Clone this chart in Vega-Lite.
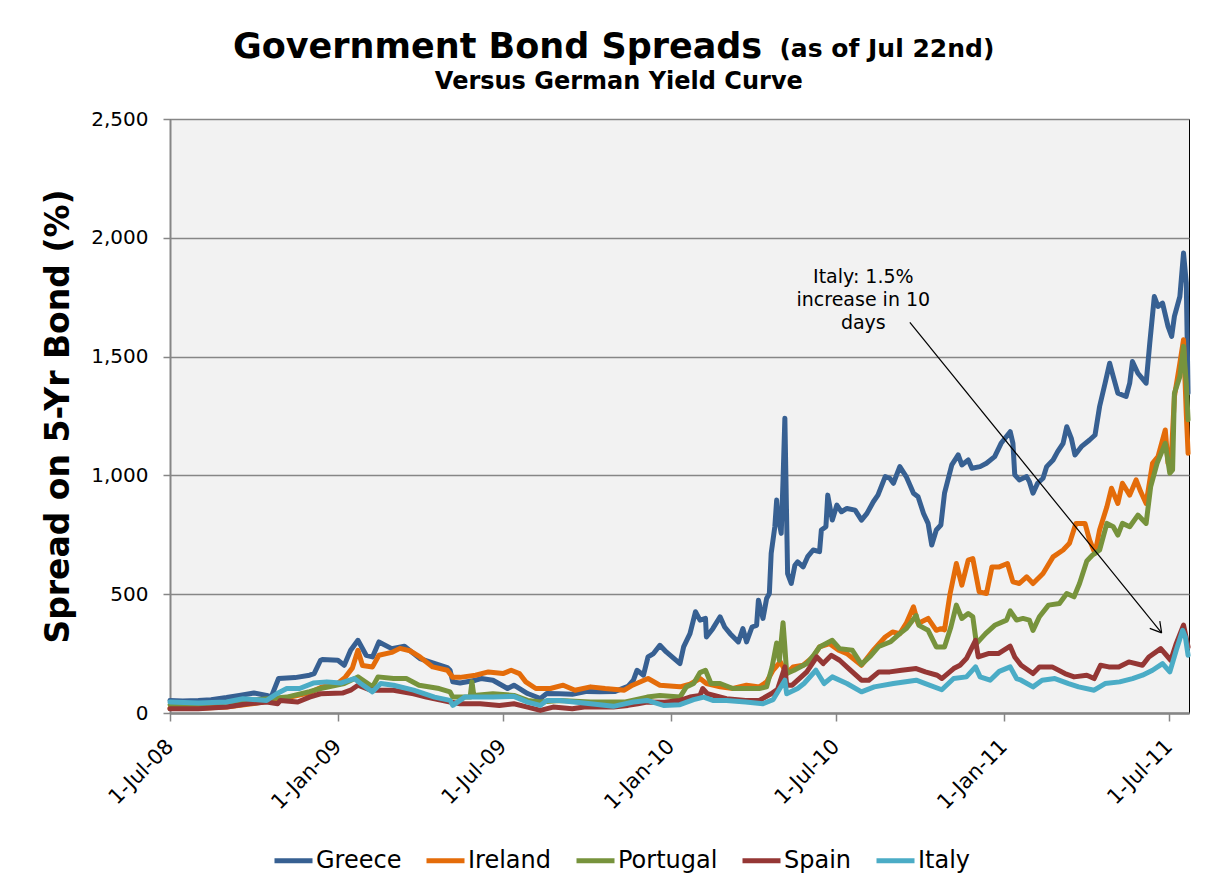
{
  "$schema": "https://vega.github.io/schema/vega-lite/v6.json",
  "autosize": "none",
  "width": 1019,
  "height": 594,
  "padding": {"left": 170, "top": 119, "right": 20, "bottom": 172},
  "background": "white",
  "config": {
    "font": "DejaVu Sans",
    "view": {"fill": "#F2F2F2", "stroke": "#000000", "strokeWidth": 1}
  },
  "title": {
    "text": "Government Bond Spreads",
    "anchor": "start",
    "frame": "group",
    "dx": 63,
    "dy": 68,
    "offset": 40,
    "fontSize": 35,
    "fontWeight": "bold",
    "font": "DejaVu Sans",
    "color": "#000000"
  },
  "datasets": {
    "spreads": [
      {"date":"2008-07-01","country":"Greece","spread":53},
      {"date":"2008-07-15","country":"Greece","spread":51},
      {"date":"2008-08-01","country":"Greece","spread":53},
      {"date":"2008-08-15","country":"Greece","spread":56},
      {"date":"2008-09-01","country":"Greece","spread":65},
      {"date":"2008-09-15","country":"Greece","spread":74},
      {"date":"2008-10-01","country":"Greece","spread":84},
      {"date":"2008-10-15","country":"Greece","spread":74},
      {"date":"2008-10-20","country":"Greece","spread":68},
      {"date":"2008-10-28","country":"Greece","spread":145},
      {"date":"2008-11-15","country":"Greece","spread":149},
      {"date":"2008-12-01","country":"Greece","spread":159},
      {"date":"2008-12-06","country":"Greece","spread":166},
      {"date":"2008-12-13","country":"Greece","spread":222},
      {"date":"2008-12-15","country":"Greece","spread":225},
      {"date":"2009-01-01","country":"Greece","spread":222},
      {"date":"2009-01-08","country":"Greece","spread":201},
      {"date":"2009-01-15","country":"Greece","spread":264},
      {"date":"2009-01-23","country":"Greece","spread":306},
      {"date":"2009-02-01","country":"Greece","spread":243},
      {"date":"2009-02-08","country":"Greece","spread":236},
      {"date":"2009-02-15","country":"Greece","spread":299},
      {"date":"2009-03-01","country":"Greece","spread":271},
      {"date":"2009-03-15","country":"Greece","spread":281},
      {"date":"2009-04-01","country":"Greece","spread":229},
      {"date":"2009-04-15","country":"Greece","spread":211},
      {"date":"2009-05-01","country":"Greece","spread":191},
      {"date":"2009-05-04","country":"Greece","spread":180},
      {"date":"2009-05-07","country":"Greece","spread":131},
      {"date":"2009-05-15","country":"Greece","spread":126},
      {"date":"2009-06-01","country":"Greece","spread":138},
      {"date":"2009-06-07","country":"Greece","spread":145},
      {"date":"2009-06-20","country":"Greece","spread":138},
      {"date":"2009-07-06","country":"Greece","spread":103},
      {"date":"2009-07-13","country":"Greece","spread":117},
      {"date":"2009-07-28","country":"Greece","spread":82},
      {"date":"2009-08-11","country":"Greece","spread":61},
      {"date":"2009-08-18","country":"Greece","spread":82},
      {"date":"2009-09-01","country":"Greece","spread":81},
      {"date":"2009-09-15","country":"Greece","spread":79},
      {"date":"2009-10-01","country":"Greece","spread":91},
      {"date":"2009-10-15","country":"Greece","spread":89},
      {"date":"2009-11-01","country":"Greece","spread":91},
      {"date":"2009-11-15","country":"Greece","spread":112},
      {"date":"2009-11-21","country":"Greece","spread":138},
      {"date":"2009-11-25","country":"Greece","spread":180},
      {"date":"2009-12-02","country":"Greece","spread":159},
      {"date":"2009-12-07","country":"Greece","spread":236},
      {"date":"2009-12-13","country":"Greece","spread":250},
      {"date":"2009-12-20","country":"Greece","spread":285},
      {"date":"2009-12-27","country":"Greece","spread":257},
      {"date":"2010-01-11","country":"Greece","spread":208},
      {"date":"2010-01-15","country":"Greece","spread":278},
      {"date":"2010-01-22","country":"Greece","spread":334},
      {"date":"2010-01-28","country":"Greece","spread":426},
      {"date":"2010-02-02","country":"Greece","spread":391},
      {"date":"2010-02-08","country":"Greece","spread":398},
      {"date":"2010-02-09","country":"Greece","spread":320},
      {"date":"2010-02-16","country":"Greece","spread":355},
      {"date":"2010-02-24","country":"Greece","spread":405},
      {"date":"2010-03-01","country":"Greece","spread":362},
      {"date":"2010-03-07","country":"Greece","spread":334},
      {"date":"2010-03-16","country":"Greece","spread":299},
      {"date":"2010-03-21","country":"Greece","spread":355},
      {"date":"2010-03-25","country":"Greece","spread":299},
      {"date":"2010-03-31","country":"Greece","spread":362},
      {"date":"2010-04-05","country":"Greece","spread":369},
      {"date":"2010-04-07","country":"Greece","spread":475},
      {"date":"2010-04-12","country":"Greece","spread":398},
      {"date":"2010-04-16","country":"Greece","spread":482},
      {"date":"2010-04-19","country":"Greece","spread":503},
      {"date":"2010-04-21","country":"Greece","spread":672},
      {"date":"2010-04-25","country":"Greece","spread":784},
      {"date":"2010-04-27","country":"Greece","spread":896},
      {"date":"2010-04-28","country":"Greece","spread":840},
      {"date":"2010-05-02","country":"Greece","spread":756},
      {"date":"2010-05-04","country":"Greece","spread":981},
      {"date":"2010-05-06","country":"Greece","spread":1241},
      {"date":"2010-05-09","country":"Greece","spread":587},
      {"date":"2010-05-13","country":"Greece","spread":545},
      {"date":"2010-05-17","country":"Greece","spread":622},
      {"date":"2010-05-20","country":"Greece","spread":636},
      {"date":"2010-05-26","country":"Greece","spread":615},
      {"date":"2010-05-31","country":"Greece","spread":658},
      {"date":"2010-06-06","country":"Greece","spread":686},
      {"date":"2010-06-13","country":"Greece","spread":679},
      {"date":"2010-06-15","country":"Greece","spread":770},
      {"date":"2010-06-20","country":"Greece","spread":784},
      {"date":"2010-06-22","country":"Greece","spread":917},
      {"date":"2010-06-27","country":"Greece","spread":812},
      {"date":"2010-07-02","country":"Greece","spread":875},
      {"date":"2010-07-07","country":"Greece","spread":847},
      {"date":"2010-07-13","country":"Greece","spread":861},
      {"date":"2010-07-22","country":"Greece","spread":854},
      {"date":"2010-07-29","country":"Greece","spread":812},
      {"date":"2010-08-04","country":"Greece","spread":840},
      {"date":"2010-08-11","country":"Greece","spread":889},
      {"date":"2010-08-16","country":"Greece","spread":917},
      {"date":"2010-08-24","country":"Greece","spread":995},
      {"date":"2010-08-29","country":"Greece","spread":988},
      {"date":"2010-09-02","country":"Greece","spread":967},
      {"date":"2010-09-09","country":"Greece","spread":1037},
      {"date":"2010-09-16","country":"Greece","spread":995},
      {"date":"2010-09-24","country":"Greece","spread":925},
      {"date":"2010-09-29","country":"Greece","spread":910},
      {"date":"2010-10-05","country":"Greece","spread":840},
      {"date":"2010-10-10","country":"Greece","spread":798},
      {"date":"2010-10-14","country":"Greece","spread":707},
      {"date":"2010-10-19","country":"Greece","spread":770},
      {"date":"2010-10-24","country":"Greece","spread":791},
      {"date":"2010-10-28","country":"Greece","spread":925},
      {"date":"2010-11-05","country":"Greece","spread":1044},
      {"date":"2010-11-12","country":"Greece","spread":1086},
      {"date":"2010-11-16","country":"Greece","spread":1044},
      {"date":"2010-11-23","country":"Greece","spread":1065},
      {"date":"2010-11-27","country":"Greece","spread":1030},
      {"date":"2010-12-06","country":"Greece","spread":1037},
      {"date":"2010-12-13","country":"Greece","spread":1051},
      {"date":"2010-12-22","country":"Greece","spread":1079},
      {"date":"2010-12-29","country":"Greece","spread":1135},
      {"date":"2011-01-08","country":"Greece","spread":1184},
      {"date":"2011-01-11","country":"Greece","spread":1135},
      {"date":"2011-01-13","country":"Greece","spread":1002},
      {"date":"2011-01-18","country":"Greece","spread":981},
      {"date":"2011-01-26","country":"Greece","spread":995},
      {"date":"2011-01-29","country":"Greece","spread":974},
      {"date":"2011-02-02","country":"Greece","spread":925},
      {"date":"2011-02-07","country":"Greece","spread":967},
      {"date":"2011-02-13","country":"Greece","spread":988},
      {"date":"2011-02-17","country":"Greece","spread":1037},
      {"date":"2011-02-24","country":"Greece","spread":1065},
      {"date":"2011-03-01","country":"Greece","spread":1100},
      {"date":"2011-03-07","country":"Greece","spread":1135},
      {"date":"2011-03-11","country":"Greece","spread":1205},
      {"date":"2011-03-16","country":"Greece","spread":1156},
      {"date":"2011-03-20","country":"Greece","spread":1086},
      {"date":"2011-03-27","country":"Greece","spread":1121},
      {"date":"2011-04-05","country":"Greece","spread":1149},
      {"date":"2011-04-11","country":"Greece","spread":1170},
      {"date":"2011-04-16","country":"Greece","spread":1290},
      {"date":"2011-04-22","country":"Greece","spread":1388},
      {"date":"2011-04-27","country":"Greece","spread":1472},
      {"date":"2011-05-01","country":"Greece","spread":1416},
      {"date":"2011-05-06","country":"Greece","spread":1346},
      {"date":"2011-05-15","country":"Greece","spread":1332},
      {"date":"2011-05-19","country":"Greece","spread":1388},
      {"date":"2011-05-22","country":"Greece","spread":1479},
      {"date":"2011-05-28","country":"Greece","spread":1430},
      {"date":"2011-06-06","country":"Greece","spread":1388},
      {"date":"2011-06-10","country":"Greece","spread":1557},
      {"date":"2011-06-15","country":"Greece","spread":1753},
      {"date":"2011-06-19","country":"Greece","spread":1711},
      {"date":"2011-06-24","country":"Greece","spread":1725},
      {"date":"2011-06-30","country":"Greece","spread":1627},
      {"date":"2011-07-04","country":"Greece","spread":1585},
      {"date":"2011-07-07","country":"Greece","spread":1669},
      {"date":"2011-07-13","country":"Greece","spread":1753},
      {"date":"2011-07-17","country":"Greece","spread":1936},
      {"date":"2011-07-20","country":"Greece","spread":1810},
      {"date":"2011-07-22","country":"Greece","spread":1346},

      {"date":"2008-07-01","country":"Ireland","spread":20},
      {"date":"2008-08-01","country":"Ireland","spread":20},
      {"date":"2008-09-01","country":"Ireland","spread":25},
      {"date":"2008-10-01","country":"Ireland","spread":40},
      {"date":"2008-11-01","country":"Ireland","spread":60},
      {"date":"2008-12-01","country":"Ireland","spread":85},
      {"date":"2008-12-15","country":"Ireland","spread":110},
      {"date":"2009-01-01","country":"Ireland","spread":125},
      {"date":"2009-01-09","country":"Ireland","spread":150},
      {"date":"2009-01-17","country":"Ireland","spread":190},
      {"date":"2009-01-23","country":"Ireland","spread":264},
      {"date":"2009-01-28","country":"Ireland","spread":200},
      {"date":"2009-02-08","country":"Ireland","spread":194},
      {"date":"2009-02-15","country":"Ireland","spread":243},
      {"date":"2009-03-01","country":"Ireland","spread":255},
      {"date":"2009-03-10","country":"Ireland","spread":272},
      {"date":"2009-03-21","country":"Ireland","spread":262},
      {"date":"2009-04-01","country":"Ireland","spread":236},
      {"date":"2009-04-15","country":"Ireland","spread":194},
      {"date":"2009-05-01","country":"Ireland","spread":180},
      {"date":"2009-05-07","country":"Ireland","spread":150},
      {"date":"2009-05-15","country":"Ireland","spread":150},
      {"date":"2009-06-01","country":"Ireland","spread":159},
      {"date":"2009-06-15","country":"Ireland","spread":173},
      {"date":"2009-07-01","country":"Ireland","spread":166},
      {"date":"2009-07-10","country":"Ireland","spread":180},
      {"date":"2009-07-19","country":"Ireland","spread":166},
      {"date":"2009-07-26","country":"Ireland","spread":131},
      {"date":"2009-08-06","country":"Ireland","spread":103},
      {"date":"2009-08-22","country":"Ireland","spread":103},
      {"date":"2009-09-05","country":"Ireland","spread":117},
      {"date":"2009-09-18","country":"Ireland","spread":96},
      {"date":"2009-10-05","country":"Ireland","spread":110},
      {"date":"2009-10-21","country":"Ireland","spread":103},
      {"date":"2009-11-11","country":"Ireland","spread":96},
      {"date":"2009-11-20","country":"Ireland","spread":117},
      {"date":"2009-12-07","country":"Ireland","spread":145},
      {"date":"2009-12-20","country":"Ireland","spread":117},
      {"date":"2010-01-11","country":"Ireland","spread":110},
      {"date":"2010-01-22","country":"Ireland","spread":121},
      {"date":"2010-02-02","country":"Ireland","spread":145},
      {"date":"2010-02-09","country":"Ireland","spread":124},
      {"date":"2010-02-24","country":"Ireland","spread":110},
      {"date":"2010-03-10","country":"Ireland","spread":103},
      {"date":"2010-03-25","country":"Ireland","spread":117},
      {"date":"2010-04-08","country":"Ireland","spread":110},
      {"date":"2010-04-16","country":"Ireland","spread":131},
      {"date":"2010-04-23","country":"Ireland","spread":180},
      {"date":"2010-05-01","country":"Ireland","spread":215},
      {"date":"2010-05-08","country":"Ireland","spread":166},
      {"date":"2010-05-15","country":"Ireland","spread":194},
      {"date":"2010-05-26","country":"Ireland","spread":201},
      {"date":"2010-06-06","country":"Ireland","spread":236},
      {"date":"2010-06-13","country":"Ireland","spread":278},
      {"date":"2010-06-24","country":"Ireland","spread":292},
      {"date":"2010-07-04","country":"Ireland","spread":264},
      {"date":"2010-07-13","country":"Ireland","spread":250},
      {"date":"2010-07-29","country":"Ireland","spread":201},
      {"date":"2010-08-10","country":"Ireland","spread":260},
      {"date":"2010-08-24","country":"Ireland","spread":320},
      {"date":"2010-09-01","country":"Ireland","spread":341},
      {"date":"2010-09-09","country":"Ireland","spread":334},
      {"date":"2010-09-16","country":"Ireland","spread":377},
      {"date":"2010-09-24","country":"Ireland","spread":447},
      {"date":"2010-09-29","country":"Ireland","spread":377},
      {"date":"2010-10-10","country":"Ireland","spread":398},
      {"date":"2010-10-19","country":"Ireland","spread":348},
      {"date":"2010-10-24","country":"Ireland","spread":355},
      {"date":"2010-10-28","country":"Ireland","spread":350},
      {"date":"2010-11-03","country":"Ireland","spread":500},
      {"date":"2010-11-10","country":"Ireland","spread":629},
      {"date":"2010-11-16","country":"Ireland","spread":538},
      {"date":"2010-11-23","country":"Ireland","spread":643},
      {"date":"2010-11-28","country":"Ireland","spread":650},
      {"date":"2010-12-05","country":"Ireland","spread":510},
      {"date":"2010-12-13","country":"Ireland","spread":503},
      {"date":"2010-12-19","country":"Ireland","spread":615},
      {"date":"2010-12-27","country":"Ireland","spread":615},
      {"date":"2011-01-05","country":"Ireland","spread":629},
      {"date":"2011-01-11","country":"Ireland","spread":552},
      {"date":"2011-01-18","country":"Ireland","spread":545},
      {"date":"2011-01-26","country":"Ireland","spread":573},
      {"date":"2011-02-02","country":"Ireland","spread":545},
      {"date":"2011-02-13","country":"Ireland","spread":587},
      {"date":"2011-02-24","country":"Ireland","spread":657},
      {"date":"2011-03-07","country":"Ireland","spread":686},
      {"date":"2011-03-14","country":"Ireland","spread":714},
      {"date":"2011-03-21","country":"Ireland","spread":798},
      {"date":"2011-03-31","country":"Ireland","spread":798},
      {"date":"2011-04-05","country":"Ireland","spread":728},
      {"date":"2011-04-11","country":"Ireland","spread":672},
      {"date":"2011-04-16","country":"Ireland","spread":770},
      {"date":"2011-04-24","country":"Ireland","spread":868},
      {"date":"2011-04-29","country":"Ireland","spread":946},
      {"date":"2011-05-06","country":"Ireland","spread":882},
      {"date":"2011-05-11","country":"Ireland","spread":967},
      {"date":"2011-05-19","country":"Ireland","spread":917},
      {"date":"2011-05-26","country":"Ireland","spread":981},
      {"date":"2011-05-31","country":"Ireland","spread":932},
      {"date":"2011-06-06","country":"Ireland","spread":882},
      {"date":"2011-06-13","country":"Ireland","spread":1051},
      {"date":"2011-06-19","country":"Ireland","spread":1079},
      {"date":"2011-06-27","country":"Ireland","spread":1191},
      {"date":"2011-06-30","country":"Ireland","spread":1051},
      {"date":"2011-07-04","country":"Ireland","spread":1107},
      {"date":"2011-07-07","country":"Ireland","spread":1332},
      {"date":"2011-07-13","country":"Ireland","spread":1472},
      {"date":"2011-07-17","country":"Ireland","spread":1571},
      {"date":"2011-07-20","country":"Ireland","spread":1262},
      {"date":"2011-07-22","country":"Ireland","spread":1093},

      {"date":"2008-07-01","country":"Portugal","spread":35},
      {"date":"2008-08-01","country":"Portugal","spread":38},
      {"date":"2008-09-01","country":"Portugal","spread":45},
      {"date":"2008-10-01","country":"Portugal","spread":55},
      {"date":"2008-11-06","country":"Portugal","spread":67},
      {"date":"2008-12-01","country":"Portugal","spread":90},
      {"date":"2008-12-13","country":"Portugal","spread":103},
      {"date":"2009-01-08","country":"Portugal","spread":124},
      {"date":"2009-01-23","country":"Portugal","spread":152},
      {"date":"2009-02-08","country":"Portugal","spread":110},
      {"date":"2009-02-14","country":"Portugal","spread":152},
      {"date":"2009-03-03","country":"Portugal","spread":145},
      {"date":"2009-03-17","country":"Portugal","spread":145},
      {"date":"2009-03-31","country":"Portugal","spread":117},
      {"date":"2009-04-22","country":"Portugal","spread":103},
      {"date":"2009-05-04","country":"Portugal","spread":89},
      {"date":"2009-05-07","country":"Portugal","spread":67},
      {"date":"2009-05-26","country":"Portugal","spread":67},
      {"date":"2009-05-28","country":"Portugal","spread":131},
      {"date":"2009-05-30","country":"Portugal","spread":74},
      {"date":"2009-06-20","country":"Portugal","spread":81},
      {"date":"2009-07-13","country":"Portugal","spread":74},
      {"date":"2009-07-28","country":"Portugal","spread":53},
      {"date":"2009-08-11","country":"Portugal","spread":46},
      {"date":"2009-09-01","country":"Portugal","spread":53},
      {"date":"2009-10-05","country":"Portugal","spread":46},
      {"date":"2009-11-11","country":"Portugal","spread":46},
      {"date":"2009-12-06","country":"Portugal","spread":67},
      {"date":"2009-12-20","country":"Portugal","spread":74},
      {"date":"2010-01-11","country":"Portugal","spread":67},
      {"date":"2010-01-18","country":"Portugal","spread":110},
      {"date":"2010-01-26","country":"Portugal","spread":124},
      {"date":"2010-02-02","country":"Portugal","spread":170},
      {"date":"2010-02-08","country":"Portugal","spread":180},
      {"date":"2010-02-14","country":"Portugal","spread":124},
      {"date":"2010-02-24","country":"Portugal","spread":124},
      {"date":"2010-03-10","country":"Portugal","spread":103},
      {"date":"2010-04-08","country":"Portugal","spread":103},
      {"date":"2010-04-16","country":"Portugal","spread":110},
      {"date":"2010-04-22","country":"Portugal","spread":194},
      {"date":"2010-04-27","country":"Portugal","spread":295},
      {"date":"2010-04-30","country":"Portugal","spread":222},
      {"date":"2010-05-04","country":"Portugal","spread":380},
      {"date":"2010-05-06","country":"Portugal","spread":278},
      {"date":"2010-05-08","country":"Portugal","spread":166},
      {"date":"2010-05-16","country":"Portugal","spread":180},
      {"date":"2010-05-30","country":"Portugal","spread":208},
      {"date":"2010-06-06","country":"Portugal","spread":240},
      {"date":"2010-06-13","country":"Portugal","spread":278},
      {"date":"2010-06-27","country":"Portugal","spread":306},
      {"date":"2010-07-05","country":"Portugal","spread":271},
      {"date":"2010-07-19","country":"Portugal","spread":264},
      {"date":"2010-07-29","country":"Portugal","spread":205},
      {"date":"2010-08-08","country":"Portugal","spread":240},
      {"date":"2010-08-17","country":"Portugal","spread":280},
      {"date":"2010-08-30","country":"Portugal","spread":300},
      {"date":"2010-09-09","country":"Portugal","spread":334},
      {"date":"2010-09-16","country":"Portugal","spread":355},
      {"date":"2010-09-27","country":"Portugal","spread":410},
      {"date":"2010-09-30","country":"Portugal","spread":369},
      {"date":"2010-10-10","country":"Portugal","spread":348},
      {"date":"2010-10-19","country":"Portugal","spread":278},
      {"date":"2010-10-28","country":"Portugal","spread":278},
      {"date":"2010-11-04","country":"Portugal","spread":362},
      {"date":"2010-11-10","country":"Portugal","spread":454},
      {"date":"2010-11-16","country":"Portugal","spread":398},
      {"date":"2010-11-23","country":"Portugal","spread":419},
      {"date":"2010-11-28","country":"Portugal","spread":405},
      {"date":"2010-12-02","country":"Portugal","spread":292},
      {"date":"2010-12-12","country":"Portugal","spread":334},
      {"date":"2010-12-22","country":"Portugal","spread":369},
      {"date":"2011-01-04","country":"Portugal","spread":391},
      {"date":"2011-01-08","country":"Portugal","spread":430},
      {"date":"2011-01-15","country":"Portugal","spread":391},
      {"date":"2011-01-22","country":"Portugal","spread":398},
      {"date":"2011-01-29","country":"Portugal","spread":391},
      {"date":"2011-02-02","country":"Portugal","spread":348},
      {"date":"2011-02-09","country":"Portugal","spread":405},
      {"date":"2011-02-19","country":"Portugal","spread":454},
      {"date":"2011-03-03","country":"Portugal","spread":461},
      {"date":"2011-03-11","country":"Portugal","spread":503},
      {"date":"2011-03-19","country":"Portugal","spread":489},
      {"date":"2011-03-25","country":"Portugal","spread":545},
      {"date":"2011-04-02","country":"Portugal","spread":640},
      {"date":"2011-04-08","country":"Portugal","spread":664},
      {"date":"2011-04-16","country":"Portugal","spread":686},
      {"date":"2011-04-24","country":"Portugal","spread":798},
      {"date":"2011-05-01","country":"Portugal","spread":784},
      {"date":"2011-05-06","country":"Portugal","spread":749},
      {"date":"2011-05-11","country":"Portugal","spread":798},
      {"date":"2011-05-19","country":"Portugal","spread":784},
      {"date":"2011-05-28","country":"Portugal","spread":833},
      {"date":"2011-06-06","country":"Portugal","spread":798},
      {"date":"2011-06-11","country":"Portugal","spread":953},
      {"date":"2011-06-18","country":"Portugal","spread":1051},
      {"date":"2011-06-27","country":"Portugal","spread":1135},
      {"date":"2011-07-02","country":"Portugal","spread":1009},
      {"date":"2011-07-05","country":"Portugal","spread":1023},
      {"date":"2011-07-07","country":"Portugal","spread":1346},
      {"date":"2011-07-13","country":"Portugal","spread":1416},
      {"date":"2011-07-17","country":"Portugal","spread":1543},
      {"date":"2011-07-20","country":"Portugal","spread":1388},
      {"date":"2011-07-22","country":"Portugal","spread":1234},

      {"date":"2008-07-01","country":"Spain","spread":18},
      {"date":"2008-08-01","country":"Spain","spread":18},
      {"date":"2008-09-01","country":"Spain","spread":25},
      {"date":"2008-09-24","country":"Spain","spread":39},
      {"date":"2008-10-15","country":"Spain","spread":46},
      {"date":"2008-10-27","country":"Spain","spread":39},
      {"date":"2008-10-30","country":"Spain","spread":53},
      {"date":"2008-11-18","country":"Spain","spread":46},
      {"date":"2008-12-01","country":"Spain","spread":67},
      {"date":"2008-12-13","country":"Spain","spread":81},
      {"date":"2009-01-06","country":"Spain","spread":84},
      {"date":"2009-01-15","country":"Spain","spread":96},
      {"date":"2009-01-23","country":"Spain","spread":117},
      {"date":"2009-02-06","country":"Spain","spread":96},
      {"date":"2009-03-03","country":"Spain","spread":96},
      {"date":"2009-03-25","country":"Spain","spread":81},
      {"date":"2009-04-08","country":"Spain","spread":67},
      {"date":"2009-05-04","country":"Spain","spread":46},
      {"date":"2009-05-15","country":"Spain","spread":39},
      {"date":"2009-06-06","country":"Spain","spread":39},
      {"date":"2009-06-27","country":"Spain","spread":32},
      {"date":"2009-07-13","country":"Spain","spread":39},
      {"date":"2009-07-28","country":"Spain","spread":25},
      {"date":"2009-08-11","country":"Spain","spread":11},
      {"date":"2009-08-25","country":"Spain","spread":25},
      {"date":"2009-09-15","country":"Spain","spread":18},
      {"date":"2009-09-28","country":"Spain","spread":25},
      {"date":"2009-10-30","country":"Spain","spread":25},
      {"date":"2009-11-15","country":"Spain","spread":32},
      {"date":"2009-11-26","country":"Spain","spread":39},
      {"date":"2009-12-06","country":"Spain","spread":46},
      {"date":"2009-12-25","country":"Spain","spread":45},
      {"date":"2010-01-11","country":"Spain","spread":53},
      {"date":"2010-01-22","country":"Spain","spread":67},
      {"date":"2010-02-02","country":"Spain","spread":74},
      {"date":"2010-02-05","country":"Spain","spread":103},
      {"date":"2010-02-10","country":"Spain","spread":81},
      {"date":"2010-03-03","country":"Spain","spread":60},
      {"date":"2010-03-24","country":"Spain","spread":53},
      {"date":"2010-04-08","country":"Spain","spread":53},
      {"date":"2010-04-21","country":"Spain","spread":81},
      {"date":"2010-04-28","country":"Spain","spread":100},
      {"date":"2010-05-06","country":"Spain","spread":194},
      {"date":"2010-05-08","country":"Spain","spread":117},
      {"date":"2010-05-14","country":"Spain","spread":117},
      {"date":"2010-05-30","country":"Spain","spread":173},
      {"date":"2010-06-10","country":"Spain","spread":236},
      {"date":"2010-06-17","country":"Spain","spread":208},
      {"date":"2010-06-26","country":"Spain","spread":243},
      {"date":"2010-07-05","country":"Spain","spread":222},
      {"date":"2010-07-15","country":"Spain","spread":187},
      {"date":"2010-07-29","country":"Spain","spread":138},
      {"date":"2010-08-06","country":"Spain","spread":138},
      {"date":"2010-08-17","country":"Spain","spread":173},
      {"date":"2010-08-29","country":"Spain","spread":173},
      {"date":"2010-09-11","country":"Spain","spread":180},
      {"date":"2010-09-27","country":"Spain","spread":187},
      {"date":"2010-10-07","country":"Spain","spread":173},
      {"date":"2010-10-20","country":"Spain","spread":159},
      {"date":"2010-10-25","country":"Spain","spread":145},
      {"date":"2010-11-07","country":"Spain","spread":187},
      {"date":"2010-11-14","country":"Spain","spread":201},
      {"date":"2010-11-21","country":"Spain","spread":229},
      {"date":"2010-12-01","country":"Spain","spread":306},
      {"date":"2010-12-04","country":"Spain","spread":236},
      {"date":"2010-12-15","country":"Spain","spread":250},
      {"date":"2010-12-26","country":"Spain","spread":250},
      {"date":"2011-01-08","country":"Spain","spread":281},
      {"date":"2011-01-13","country":"Spain","spread":236},
      {"date":"2011-01-20","country":"Spain","spread":201},
      {"date":"2011-02-02","country":"Spain","spread":166},
      {"date":"2011-02-09","country":"Spain","spread":194},
      {"date":"2011-02-23","country":"Spain","spread":194},
      {"date":"2011-03-09","country":"Spain","spread":166},
      {"date":"2011-03-19","country":"Spain","spread":152},
      {"date":"2011-04-02","country":"Spain","spread":159},
      {"date":"2011-04-10","country":"Spain","spread":145},
      {"date":"2011-04-17","country":"Spain","spread":201},
      {"date":"2011-04-26","country":"Spain","spread":194},
      {"date":"2011-05-07","country":"Spain","spread":194},
      {"date":"2011-05-18","country":"Spain","spread":215},
      {"date":"2011-06-02","country":"Spain","spread":201},
      {"date":"2011-06-09","country":"Spain","spread":236},
      {"date":"2011-06-22","country":"Spain","spread":271},
      {"date":"2011-07-03","country":"Spain","spread":222},
      {"date":"2011-07-09","country":"Spain","spread":292},
      {"date":"2011-07-17","country":"Spain","spread":370},
      {"date":"2011-07-22","country":"Spain","spread":278},

      {"date":"2008-07-01","country":"Italy","spread":46},
      {"date":"2008-08-01","country":"Italy","spread":42},
      {"date":"2008-09-01","country":"Italy","spread":46},
      {"date":"2008-09-19","country":"Italy","spread":60},
      {"date":"2008-10-15","country":"Italy","spread":53},
      {"date":"2008-10-26","country":"Italy","spread":81},
      {"date":"2008-11-06","country":"Italy","spread":103},
      {"date":"2008-11-20","country":"Italy","spread":103},
      {"date":"2008-12-05","country":"Italy","spread":126},
      {"date":"2008-12-20","country":"Italy","spread":131},
      {"date":"2009-01-04","country":"Italy","spread":126},
      {"date":"2009-01-19","country":"Italy","spread":145},
      {"date":"2009-01-26","country":"Italy","spread":124},
      {"date":"2009-02-08","country":"Italy","spread":89},
      {"date":"2009-02-17","country":"Italy","spread":124},
      {"date":"2009-03-03","country":"Italy","spread":117},
      {"date":"2009-03-25","country":"Italy","spread":96},
      {"date":"2009-04-17","country":"Italy","spread":67},
      {"date":"2009-05-04","country":"Italy","spread":53},
      {"date":"2009-05-07","country":"Italy","spread":32},
      {"date":"2009-05-20","country":"Italy","spread":67},
      {"date":"2009-06-06","country":"Italy","spread":67},
      {"date":"2009-06-20","country":"Italy","spread":67},
      {"date":"2009-07-13","country":"Italy","spread":70},
      {"date":"2009-07-28","country":"Italy","spread":46},
      {"date":"2009-08-11","country":"Italy","spread":32},
      {"date":"2009-08-18","country":"Italy","spread":53},
      {"date":"2009-09-01","country":"Italy","spread":53},
      {"date":"2009-10-05","country":"Italy","spread":39},
      {"date":"2009-10-30","country":"Italy","spread":28},
      {"date":"2009-11-21","country":"Italy","spread":46},
      {"date":"2009-12-06","country":"Italy","spread":53},
      {"date":"2009-12-24","country":"Italy","spread":32},
      {"date":"2010-01-11","country":"Italy","spread":35},
      {"date":"2010-01-26","country":"Italy","spread":56},
      {"date":"2010-02-06","country":"Italy","spread":67},
      {"date":"2010-02-16","country":"Italy","spread":53},
      {"date":"2010-03-03","country":"Italy","spread":53},
      {"date":"2010-03-24","country":"Italy","spread":46},
      {"date":"2010-04-12","country":"Italy","spread":39},
      {"date":"2010-04-23","country":"Italy","spread":56},
      {"date":"2010-05-06","country":"Italy","spread":138},
      {"date":"2010-05-08","country":"Italy","spread":81},
      {"date":"2010-05-20","country":"Italy","spread":103},
      {"date":"2010-05-27","country":"Italy","spread":124},
      {"date":"2010-06-09","country":"Italy","spread":180},
      {"date":"2010-06-18","country":"Italy","spread":124},
      {"date":"2010-06-27","country":"Italy","spread":152},
      {"date":"2010-07-13","country":"Italy","spread":124},
      {"date":"2010-07-29","country":"Italy","spread":89},
      {"date":"2010-08-12","country":"Italy","spread":110},
      {"date":"2010-09-02","country":"Italy","spread":124},
      {"date":"2010-09-27","country":"Italy","spread":138},
      {"date":"2010-10-07","country":"Italy","spread":124},
      {"date":"2010-10-25","country":"Italy","spread":98},
      {"date":"2010-11-07","country":"Italy","spread":145},
      {"date":"2010-11-21","country":"Italy","spread":152},
      {"date":"2010-12-01","country":"Italy","spread":194},
      {"date":"2010-12-06","country":"Italy","spread":152},
      {"date":"2010-12-17","country":"Italy","spread":138},
      {"date":"2010-12-27","country":"Italy","spread":175},
      {"date":"2011-01-08","country":"Italy","spread":194},
      {"date":"2011-01-15","country":"Italy","spread":145},
      {"date":"2011-01-20","country":"Italy","spread":138},
      {"date":"2011-02-02","country":"Italy","spread":110},
      {"date":"2011-02-12","country":"Italy","spread":138},
      {"date":"2011-02-26","country":"Italy","spread":145},
      {"date":"2011-03-13","country":"Italy","spread":124},
      {"date":"2011-03-24","country":"Italy","spread":110},
      {"date":"2011-04-10","country":"Italy","spread":96},
      {"date":"2011-04-22","country":"Italy","spread":124},
      {"date":"2011-05-08","country":"Italy","spread":131},
      {"date":"2011-05-22","country":"Italy","spread":145},
      {"date":"2011-06-02","country":"Italy","spread":159},
      {"date":"2011-06-13","country":"Italy","spread":180},
      {"date":"2011-06-24","country":"Italy","spread":208},
      {"date":"2011-07-02","country":"Italy","spread":173},
      {"date":"2011-07-09","country":"Italy","spread":264},
      {"date":"2011-07-16","country":"Italy","spread":348},
      {"date":"2011-07-19","country":"Italy","spread":320},
      {"date":"2011-07-22","country":"Italy","spread":243}
    ],
    "arrow": [
      {"from_date":"2010-09-20","from_value":1644,"to_date":"2011-06-23","to_value":337},
      {"from_date":"2011-06-10","from_value":356,"to_date":"2011-06-23","to_value":337},
      {"from_date":"2011-06-21","from_value":387,"to_date":"2011-06-23","to_value":337}
    ]
  },
  "layer": [
    {
      "data": {"name": "spreads"},
      "mark": {"type": "line", "strokeWidth": 5, "strokeJoin": "round", "strokeCap": "round"},
      "encoding": {
        "x": {
          "field": "date", "type": "temporal",
          "scale": {"type": "utc", "domain": [{"year":2008,"month":7,"date":1,"utc":true},{"year":2011,"month":7,"date":23,"utc":true}], "nice": false},
          "axis": {
            "values": [
              {"year":2008,"month":7,"date":1,"utc":true},
              {"year":2009,"month":1,"date":1,"utc":true},
              {"year":2009,"month":7,"date":1,"utc":true},
              {"year":2010,"month":1,"date":1,"utc":true},
              {"year":2010,"month":7,"date":1,"utc":true},
              {"year":2011,"month":1,"date":1,"utc":true},
              {"year":2011,"month":7,"date":1,"utc":true}
            ],
            "format": "%-d-%b-%y",
            "title": null,
            "grid": false,
            "labelAngle": -45,
            "labelAlign": "right",
            "labelBaseline": "middle",
            "labelFont": "DejaVu Sans",
            "labelFontSize": 21,
            "labelColor": "#000000",
            "labelPadding": 22,
            "labelFlush": false,
            "labelOverlap": false,
            "tickSize": 8,
            "tickColor": "#868686",
            "tickWidth": 1.5,
            "domainColor": "#868686",
            "domainWidth": 2.5
          }
        },
        "y": {
          "field": "spread", "type": "quantitative",
          "scale": {"domain": [0, 2500], "nice": false},
          "axis": {
            "values": [0, 500, 1000, 1500, 2000, 2500],
            "format": ",.0f",
            "title": "Spread on 5-Yr Bond (%)",
            "titleFont": "DejaVu Sans",
            "titleFontSize": 33,
            "titleFontWeight": "bold",
            "titleColor": "#000000",
            "titlePadding": 15,
            "labelFont": "DejaVu Sans",
            "labelFontSize": 20,
            "labelColor": "#000000",
            "labelPadding": 15,
            "labelFlush": false,
            "tickSize": 7,
            "tickColor": "#868686",
            "tickWidth": 1.5,
            "domainColor": "#868686",
            "domainWidth": 2,
            "grid": true,
            "gridColor": "#868686",
            "gridWidth": 1.3
          }
        },
        "color": {
          "field": "country", "type": "nominal",
          "scale": {"domain": ["Greece", "Ireland", "Portugal", "Spain", "Italy"], "range": ["#376092", "#E46C0A", "#77933C", "#953735", "#4BACC6"]},
          "legend": {
            "orient": "none",
            "legendX": 102,
            "legendY": 720,
            "direction": "horizontal",
            "title": null,
            "symbolType": "stroke",
            "symbolSize": 1444,
            "symbolStrokeWidth": 5,
            "labelFont": "DejaVu Sans",
            "labelFontSize": 24,
            "labelColor": "#000000",
            "labelOffset": 1,
            "columnPadding": 14
          }
        }
      }
    },
    {
      "data": {"name": "arrow"},
      "mark": {"type": "rule", "color": "#000000", "strokeWidth": 1.2},
      "encoding": {
        "x": {"field": "from_date", "type": "temporal", "scale": {"type": "utc", "domain": [{"year":2008,"month":7,"date":1,"utc":true},{"year":2011,"month":7,"date":23,"utc":true}], "nice": false}},
        "x2": {"field": "to_date"},
        "y": {"field": "from_value", "type": "quantitative", "scale": {"domain": [0, 2500], "nice": false}},
        "y2": {"field": "to_value"}
      }
    },
    {
      "data": {"values": [{}]},
      "mark": {"type": "text", "align": "center", "baseline": "alphabetic", "font": "DejaVu Sans", "fontSize": 19, "lineHeight": 23, "color": "#000000"},
      "encoding": {
        "x": {"datum": {"year":2010,"month":7,"date":31,"utc":true}, "type": "temporal", "scale": {"type": "utc", "domain": [{"year":2008,"month":7,"date":1,"utc":true},{"year":2011,"month":7,"date":23,"utc":true}], "nice": false}},
        "y": {"datum": 1808, "type": "quantitative", "scale": {"domain": [0, 2500], "nice": false}},
        "text": {"value": ["Italy: 1.5%", "increase in 10", "days"]}
      }
    },
    {
      "data": {"values": [{}]},
      "mark": {"type": "text", "align": "left", "baseline": "alphabetic", "font": "DejaVu Sans", "fontSize": 25, "fontWeight": "bold", "color": "#000000"},
      "encoding": {
        "x": {"datum": {"year":2010,"month":4,"date":30,"utc":true}, "type": "temporal", "scale": {"type": "utc", "domain": [{"year":2008,"month":7,"date":1,"utc":true},{"year":2011,"month":7,"date":23,"utc":true}], "nice": false}},
        "y": {"datum": 2760, "type": "quantitative", "scale": {"domain": [0, 2500], "nice": false}},
        "text": {"value": "(as of Jul 22nd)"}
      }
    },
    {
      "data": {"values": [{}]},
      "mark": {"type": "text", "align": "center", "baseline": "alphabetic", "font": "DejaVu Sans", "fontSize": 24, "fontWeight": "bold", "color": "#000000"},
      "encoding": {
        "x": {"datum": {"year":2009,"month":11,"date":5,"utc":true}, "type": "temporal", "scale": {"type": "utc", "domain": [{"year":2008,"month":7,"date":1,"utc":true},{"year":2011,"month":7,"date":23,"utc":true}], "nice": false}},
        "y": {"datum": 2626, "type": "quantitative", "scale": {"domain": [0, 2500], "nice": false}},
        "text": {"value": "Versus German Yield Curve"}
      }
    }
  ]
}
